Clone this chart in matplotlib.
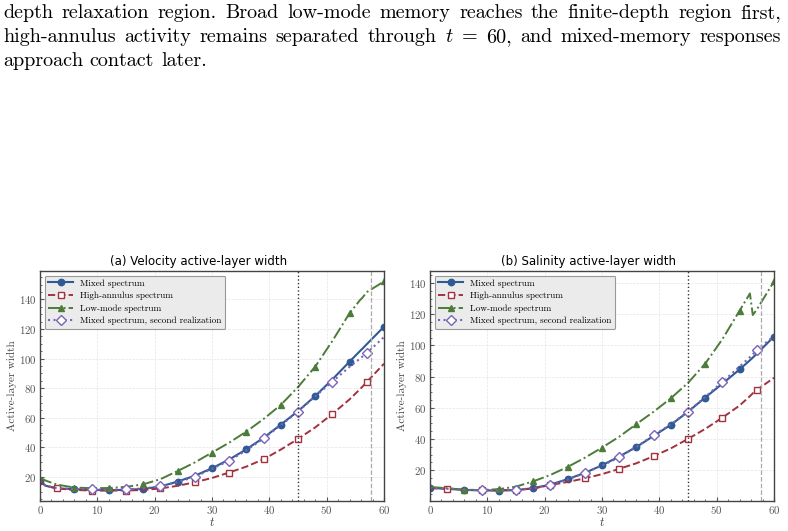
import numpy as np
import matplotlib
matplotlib.use("Agg")
import matplotlib.pyplot as plt

plt.rcParams['font.family'] = 'cmr10'
plt.rcParams['mathtext.fontset'] = 'cm'
plt.rcParams['axes.formatter.use_mathtext'] = True

# time samples (shared by every series)
t = [0, 1, 3, 6, 9, 12, 15, 18, 21, 24, 27, 30, 33, 36, 39, 42, 45, 48, 51, 54, 55.8, 56.3, 57, 60]

# (a) velocity active-layer width
vel_mixed = [17.3, 14.0, 12.3, 11.7, 11.2, 11.0, 11.3, 11.9, 13.5, 16.9, 20.8, 25.9,
             31.8, 38.7, 46.5, 55.4, 64.5, 74.7, 86.0, 98.0, 105.1, 107.0, 109.8, 121.6]
vel_high = [17.0, 14.0, 12.2, 11.2, 10.8, 10.8, 10.8, 11.2, 12.2, 14.0, 16.4, 19.3,
            23.0, 27.0, 32.0, 38.5, 45.7, 53.5, 62.6, 72.5, 79.3, 81.3, 84.2, 96.6]
vel_low = [19.5, 17.5, 14.8, 12.8, 12.4, 12.5, 13.3, 15.0, 18.5, 24.0, 29.8, 36.5,
           43.2, 50.7, 59.2, 68.7, 80.8, 94.6, 112.0, 130.8, 139.5, 141.5, 145.0, 152.2]
vel_second = [17.3, 14.0, 12.4, 11.8, 11.7, 11.2, 11.7, 12.2, 13.7, 16.5, 20.0, 25.5,
              31.0, 38.0, 46.0, 55.0, 64.2, 74.5, 84.4, 94.5, 100.0, 101.6, 103.8, 114.6]

# (b) salinity active-layer width
sal_mixed = [8.7, 8.5, 8.1, 7.4, 7.1, 7.0, 7.3, 8.5, 10.8, 14.3, 18.3, 23.2,
             28.8, 34.9, 42.0, 49.1, 57.5, 66.6, 75.5, 84.6, 90.5, 92.2, 94.7, 105.7]
sal_high = [8.7, 8.5, 8.3, 7.6, 7.2, 7.2, 7.3, 8.3, 10.5, 12.5, 14.8, 17.5,
            20.9, 24.5, 29.0, 34.0, 40.1, 46.5, 53.7, 61.5, 67.5, 69.3, 71.4, 79.3]
sal_low = [9.3, 9.0, 8.5, 7.5, 7.3, 7.9, 9.5, 12.9, 17.0, 22.1, 28.0, 34.5,
           41.5, 49.6, 57.5, 66.1, 76.0, 88.3, 104.0, 122.3, 133.3, 119.5, 123.0, 141.0]
sal_second = [8.7, 8.5, 8.1, 7.5, 7.2, 7.0, 7.5, 8.5, 10.6, 14.0, 18.3, 23.0,
              28.2, 35.0, 42.3, 49.5, 57.5, 67.0, 76.6, 86.5, 92.5, 94.3, 97.2, 106.0]

labels = ['Mixed spectrum', 'High-annulus spectrum', 'Low-mode spectrum',
          'Mixed spectrum, second realization']
titles = ['(a) Velocity active-layer width', '(b) Salinity active-layer width']
t_contact = 45
t_depth = 57.7

paragraph = [
    'depth relaxation region.  Broad low-mode memory reaches the finite-depth region first,',
    'high-annulus activity remains separated through $t$ = 60, and mixed-memory responses',
    'approach contact later.',
]

c_mixed = '#2f5b94'
c_high = '#a2323f'
c_low = '#4c7c39'
c_second = '#7a64b8'

t_arr = np.array(t)
every6 = list(np.isclose(t_arr % 6, 0))
every6_no0 = list(np.isclose(t_arr % 6, 0) & (t_arr > 0))
every3 = list(np.isclose(t_arr % 6, 3))
every3_no3 = list(np.isclose(t_arr % 6, 3) & (t_arr > 3))

fig = plt.figure(figsize=(7.88, 5.31), dpi=100)

# paragraph text at the top, justified word by word
renderer = fig.canvas.get_renderer()
W, H = 788.0, 531.0
x_left, x_right = 3.0, 781.0
baselines = [18.0, 42.0, 66.0]
for i, line in enumerate(paragraph):
    words = line.split()
    objs = [fig.text(0, 1 - baselines[i] / H, w, fontsize=14.5, va='baseline',
                     family='cmr10') for w in words]
    widths = [o.get_window_extent(renderer).width for o in objs]
    if i < len(paragraph) - 1:
        gap = (x_right - x_left - sum(widths)) / (len(words) - 1)
    else:
        gap = 0.333 * 14.5 * 100 / 72
    x = x_left
    for o, w in zip(objs, widths):
        o.set_x(x / W)
        x += w + gap

panels = [
    (vel_mixed, vel_high, vel_low, vel_second),
    (sal_mixed, sal_high, sal_low, sal_second),
]
lefts = [40, 430]
for k, (mixed, high, low, second) in enumerate(panels):
    ax = fig.add_axes([lefts[k] / W, 30 / H, 344 / W, 230 / H])
    ax.plot(t, mixed, color=c_mixed, ls='-', lw=1.5, marker='o', ms=4.6,
            markevery=every6, label=labels[0])
    ax.plot(t, high, color=c_high, ls='--', lw=1.4, marker='s', ms=5,
            mfc='white', mec=c_high, mew=1.0, markevery=every3, label=labels[1])
    ax.plot(t, low, color=c_low, ls='-.', lw=1.4, marker='^', ms=5,
            markevery=every6_no0, label=labels[2])
    ax.plot(t, second, color=c_second, ls=':', lw=1.5, marker='D', ms=4.6,
            mfc='white', mec=c_second, mew=1.0, markevery=every3_no3, label=labels[3])
    ax.axvline(t_contact, color='#333333', ls=':', lw=1.0)
    ax.axvline(t_depth, color='#aaaaaa', ls='--', lw=0.9)
    ax.set_xlim(0, 60)
    ax.set_xticks([0, 10, 20, 30, 40, 50, 60])
    ax.set_yticks([20, 40, 60, 80, 100, 120, 140])
    ax.minorticks_on()
    ax.grid(True, which='major', color='#e4e4e4', ls='--', lw=0.5)
    ax.tick_params(which='both', direction='in', colors='#555555', labelsize=7.8, pad=2.5)
    ax.tick_params(which='major', length=3)
    ax.tick_params(which='minor', length=1.5)
    for s in ax.spines.values():
        s.set_color('#444444')
        s.set_linewidth(1.0)
    ax.set_xlabel('$t$', fontsize=9, color='#444444', labelpad=0)
    ax.set_ylabel('Active-layer width', fontsize=8, color='#444444', labelpad=1)
    ax.set_title(titles[k], fontsize=8.5, family='DejaVu Sans', pad=4, x=0.462)
    leg = ax.legend(loc='upper left', fontsize=6.6, handlelength=2.7,
                    handletextpad=0.8, labelspacing=0.45, borderpad=0.4,
                    frameon=True, fancybox=True, framealpha=1.0)
    leg.get_frame().set_facecolor('#ebebeb')
    leg.get_frame().set_edgecolor('#999999')
    leg.get_frame().set_linewidth(0.8)

fig.savefig('out.png', dpi=100)
